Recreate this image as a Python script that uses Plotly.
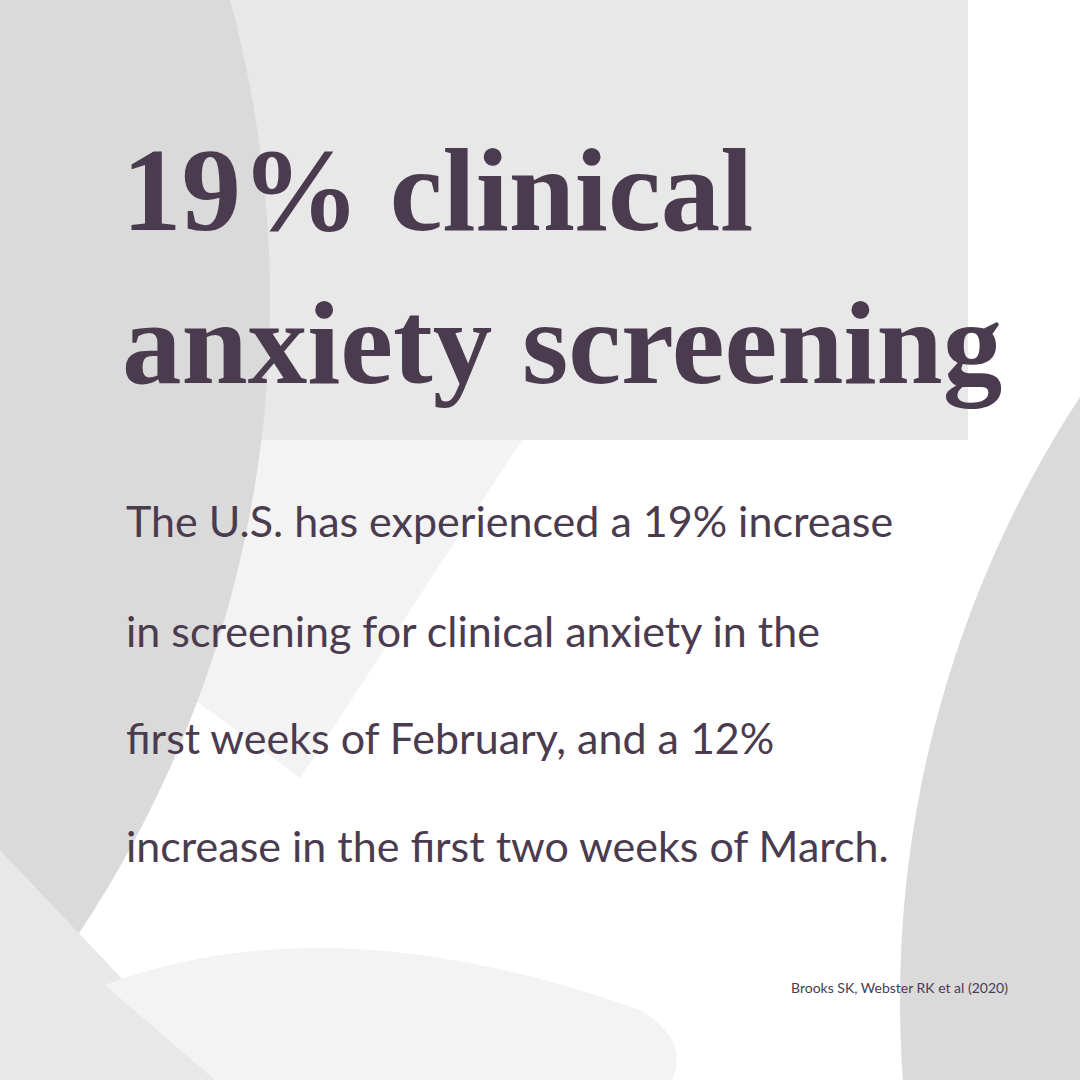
import plotly.graph_objects as go

title_lines = ["19% clinical", "anxiety screening"]
body_lines = [
    "The U.S. has experienced a 19% increase",
    "in screening for clinical anxiety in the",
    "first weeks of February, and a 12%",
    "increase in the first two weeks of March.",
]
source = "Brooks SK, Webster RK et al (2020)"

TXT = "#4b3b4f"
fig = go.Figure()
shapes = [
    dict(type="rect", x0=0, y0=0, x1=968, y1=440, fillcolor="#e8e8e8", line_width=0, layer="below"),
    dict(type="circle", x0=968, y0=-700, x1=1700, y1=32, fillcolor="#dcdcdc", line_width=0, layer="below"),
    dict(type="path", path="M 200 440 L 522 440 L 300 778 L 195 700 Z", fillcolor="#f3f3f3", line_width=0, layer="below"),
    dict(type="circle", x0=-2020, y0=-845, x1=270, y1=1445, fillcolor="#dadada", line_width=0, layer="below"),
    dict(type="circle", x0=900, y0=-100, x1=3100, y1=2100, fillcolor="#dadada", line_width=0, layer="below"),
    dict(type="path", path="M 0 850 L 218 1080 L 0 1080 Z", fillcolor="#e8e8e8", line_width=0, layer="below"),
    dict(type="path", path="M 105 985 Q 330 900 640 1010 Q 690 1040 672 1080 L 215 1080 Z",
         fillcolor="#f3f3f3", line_width=0, layer="below"),
]
fig.update_layout(shapes=shapes)

ann = []
for i, t in enumerate(title_lines):
    ann.append(dict(x=120, y=[190, 343][i], text=f"<b>{t}</b>", showarrow=False, xanchor="left", yanchor="middle",
                    font=dict(family="Liberation Serif", size=119, color=TXT)))
for i, t in enumerate(body_lines):
    ann.append(dict(x=124, y=[520, 630, 737, 845][i], text=t, showarrow=False, xanchor="left", yanchor="middle",
                    font=dict(family="Lato", size=43, color=TXT)))
ann.append(dict(x=1010, y=987, text=source, showarrow=False, xanchor="right", yanchor="middle",
                font=dict(family="Lato", size=14, color=TXT)))
fig.update_layout(annotations=ann, width=1080, height=1080, margin=dict(l=0, r=0, t=0, b=0),
                  paper_bgcolor="white", plot_bgcolor="white", showlegend=False,
                  xaxis=dict(range=[0, 1080], visible=False, fixedrange=True),
                  yaxis=dict(range=[1080, 0], visible=False, fixedrange=True))
fig.write_html("out.html", config={"displayModeBar": False},
               post_script="document.body.style.margin='0';document.body.style.overflow='hidden';")
